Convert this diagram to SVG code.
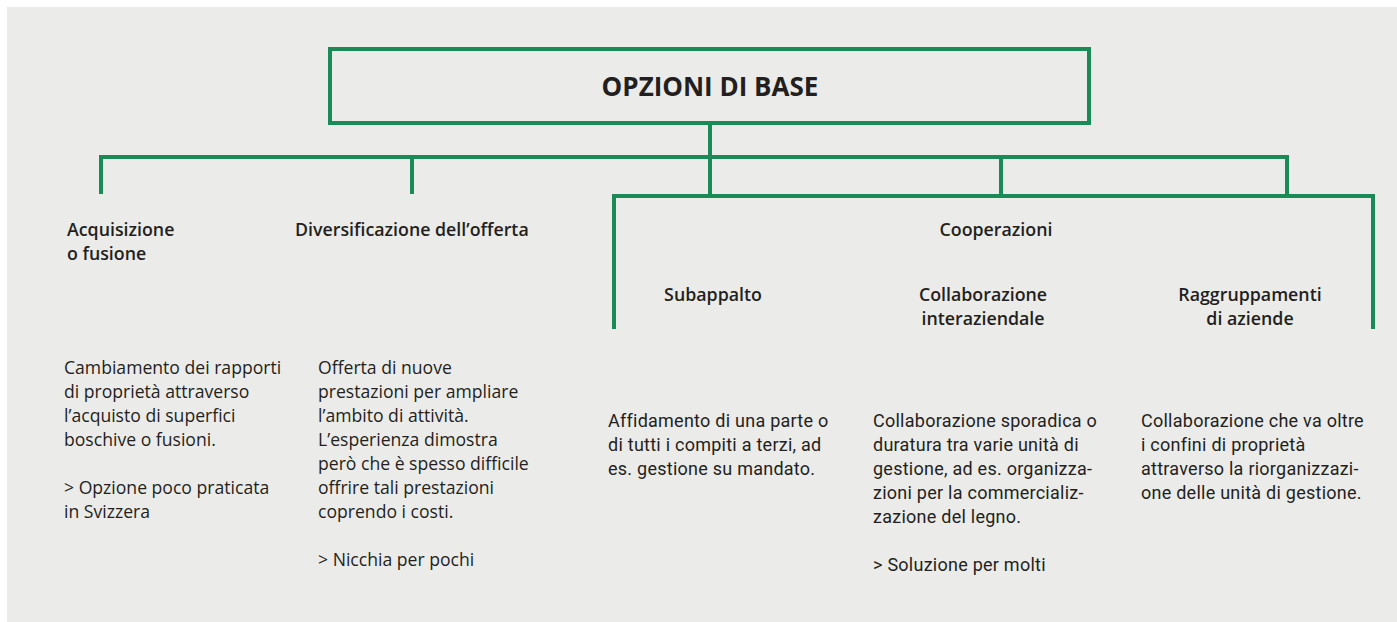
<svg xmlns="http://www.w3.org/2000/svg" width="1397" height="622" viewBox="0 0 1397 622">
<style>
.bg{fill:#ebebe9}
.ln{fill:none;stroke:#1a8a57;stroke-width:4}
.t{font-family:"Open Sans",Roboto,"Liberation Sans",sans-serif;fill:#231f20}
.title{font-size:26px;font-weight:700}
.h{font-size:17.8px;font-weight:600}
.b{font-size:17.6px;font-weight:400}
.c{font-family:Roboto,"Liberation Sans",sans-serif;font-size:18px;font-weight:400;letter-spacing:0.25px}
</style>
<rect class="bg" x="7" y="7" width="1390" height="615"/>
<g id="connectors">
<path class="ln" d="M710,125 V196"/>
<path class="ln" d="M101,194 V157 H1287 V196"/>
<path class="ln" d="M412,157 V194"/>
<path class="ln" d="M1001,157 V196"/>
<path class="ln" d="M614,329 V196 H1373 V329"/>
</g>
<g id="root">
<rect class="ln" x="330" y="49" width="759" height="74"/>
<text class="t title" x="710" y="96" text-anchor="middle">OPZIONI DI BASE</text>
</g>
<g id="acquisizione">
<text class="t h" x="67" y="236">Acquisizione</text>
<text class="t h" x="67" y="260">o fusione</text>
<text class="t b" x="64" y="374">Cambiamento dei rapporti</text>
<text class="t b" x="64" y="398">di proprietà attraverso</text>
<text class="t b" x="64" y="422">l’acquisto di superfici</text>
<text class="t b" x="64" y="446">boschive o fusioni.</text>
<text class="t b" x="64" y="494">&gt; Opzione poco praticata</text>
<text class="t b" x="64" y="518">in Svizzera</text>
</g>
<g id="diversificazione">
<text class="t h" x="295" y="236">Diversificazione dell’offerta</text>
<text class="t b" x="318" y="374">Offerta di nuove</text>
<text class="t b" x="318" y="398">prestazioni per ampliare</text>
<text class="t b" x="318" y="422">l’ambito di attività.</text>
<text class="t b" x="318" y="446">L’esperienza dimostra</text>
<text class="t b" x="318" y="470">però che è spesso difficile</text>
<text class="t b" x="318" y="494">offrire tali prestazioni</text>
<text class="t b" x="318" y="518">coprendo i costi.</text>
<text class="t b" x="318" y="566">&gt; Nicchia per pochi</text>
</g>
<g id="cooperazioni">
<text class="t h" x="996" y="236" text-anchor="middle">Cooperazioni</text>
</g>
<g id="subappalto">
<text class="t h" x="713" y="301" text-anchor="middle">Subappalto</text>
<text class="t c" x="608" y="427">Affidamento di una parte o</text>
<text class="t c" x="608" y="451">di tutti i compiti a terzi, ad</text>
<text class="t c" x="608" y="475">es. gestione su mandato.</text>
</g>
<g id="collaborazione">
<text class="t h" x="983" y="301" text-anchor="middle">Collaborazione</text>
<text class="t h" x="983" y="325" text-anchor="middle">interaziendale</text>
<text class="t c" x="873" y="427">Collaborazione sporadica o</text>
<text class="t c" x="873" y="451">duratura tra varie unità di</text>
<text class="t c" x="873" y="475">gestione, ad es. organizza-</text>
<text class="t c" x="873" y="499">zioni per la commercializ-</text>
<text class="t c" x="873" y="523">zazione del legno.</text>
<text class="t c" x="873" y="571">&gt; Soluzione per molti</text>
</g>
<g id="raggruppamenti">
<text class="t h" x="1250" y="301" text-anchor="middle">Raggruppamenti</text>
<text class="t h" x="1250" y="325" text-anchor="middle">di aziende</text>
<text class="t c" x="1141" y="427">Collaborazione che va oltre</text>
<text class="t c" x="1141" y="451">i confini di proprietà</text>
<text class="t c" x="1141" y="475">attraverso la riorganizzazi-</text>
<text class="t c" x="1141" y="499">one delle unità di gestione.</text>
</g>
</svg>
